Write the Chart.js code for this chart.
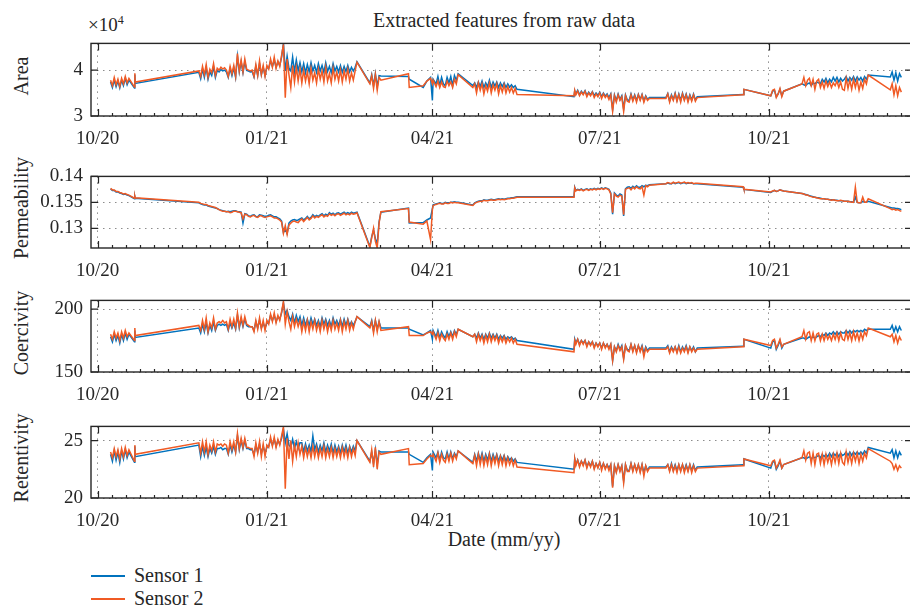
<!DOCTYPE html>
<html>
<head>
<meta charset="utf-8">
<script src="https://cdn.jsdelivr.net/npm/chart.js@4.4.0/dist/chart.umd.min.js"></script>
<style>
  html, body { margin: 0; width: 910px; height: 609px; overflow: hidden; background: #fff; }
  .panel { position: absolute; left: 0; width: 912px; }
  .txt { position: absolute; font-family: "Liberation Serif", "Times New Roman", serif; color: #262626; white-space: nowrap; }
  .ylab { font-size: 20px; transform: translate(-50%, -50%) rotate(-90deg); }
  .key { position: absolute; left: 91px; width: 34px; height: 1.6px; }
</style>
</head>
<body>
<div class="txt" style="left:91px;width:826px;top:9px;text-align:center;font-size:20px">Extracted features from raw data</div>
<div class="txt" style="left:88px;top:13px;font-size:19px">×10<sup style="font-size:12px">4</sup></div>

<div class="txt ylab" style="left:21px;top:76px">Area</div>
<div class="txt ylab" style="left:21px;top:208px">Permeability</div>
<div class="txt ylab" style="left:21px;top:333px">Coercivity</div>
<div class="txt ylab" style="left:21px;top:458px">Retentivity</div>

<div class="panel" style="top:24px"><canvas id="area" width="912" height="122"></canvas></div>
<div class="panel" style="top:157px"><canvas id="perm" width="912" height="121"></canvas></div>
<div class="panel" style="top:281px"><canvas id="coer" width="912" height="121"></canvas></div>
<div class="panel" style="top:407px"><canvas id="ret" width="912" height="121"></canvas></div>

<div class="txt" style="left:91px;width:826px;top:528px;text-align:center;font-size:20px">Date (mm/yy)</div>

<div class="key" style="top:575px;background:#0072BD"></div>
<div class="txt" style="left:134px;top:563px;font-size:20px;line-height:24px">Sensor 1</div>
<div class="key" style="top:598px;background:#F05A24"></div>
<div class="txt" style="left:134px;top:586px;font-size:20px;line-height:24px">Sensor 2</div>

<script>
// sample times, days since 1 Oct 2020 (one row per recording session)
const days = [
  7, 8, 9, 10, 11, 12, 13, 14, 15, 16, 17,
  20, 20.2, 20.4,
  55, 56, 57, 58, 59, 60, 61, 62, 63, 64, 65, 66, 67, 68, 69, 70, 71, 72, 73, 74, 75,
  76, 77, 78, 79, 80, 81, 82, 83, 84, 85, 86, 87, 88, 89, 90, 91, 92, 93, 94, 95, 96, 97, 98, 99, 100,
  101, 102, 103, 104, 105, 106, 107, 108, 109, 110,
  111, 112, 113, 114, 115, 116, 117, 118, 119, 120, 121, 122, 123, 124, 125, 126, 127, 128, 129,
  130, 131, 132, 133, 134, 135, 136, 137, 138, 139, 140, 141,
  148, 149, 150, 151, 152, 153, 154,
  169, 169.4,
  177, 179, 181, 182, 182.4,
  184, 185, 186, 187, 188, 189, 190, 191, 192, 193, 194, 195, 196,
  204,
  205, 206, 207, 208, 209, 210, 211, 212, 213, 214, 215, 216, 217, 218, 219, 220, 221, 222, 223, 224, 225, 226, 227, 228,
  259, 259.4,
  260, 261, 262, 263, 264, 265, 266, 267, 268, 269, 270, 271, 272, 273, 274, 275, 276, 277, 278, 279,
  280, 281, 282, 283, 284, 285, 286, 287, 288, 289, 290, 291, 292, 293, 294, 295, 296, 297, 298, 299, 300,
  309, 310, 311, 312, 313, 314, 315, 316, 317, 318, 319, 320, 321, 322, 323, 324, 325, 326,
  351, 351.4,
  366, 367, 368, 369, 370, 371, 372, 373,
  383, 384, 385, 386, 387, 388, 389, 390, 391, 392, 393, 394, 395, 396, 397, 398, 399, 400, 401,
  402, 403, 404, 405, 406, 407, 408, 409, 410, 411, 412, 413, 414, 415, 416, 417, 418, 419,
  431, 432, 433, 434, 435, 436, 437
];

const tickDays = [0, 92, 182, 273, 365];
const tickLabels = ['10/20', '01/21', '04/21', '07/21', '10/21'];

// area in units of 10^4
const areaS1 = [
  3.74, 3.62, 3.78, 3.64, 3.76, 3.61, 3.78, 3.66, 3.82, 3.68, 3.78,
  3.61, 3.90, 3.71,
  3.95, 3.81, 4.02, 3.84, 4.05, 3.80, 3.96, 3.88, 4.07, 3.84, 3.99, 3.96, 4.01, 3.98, 4.00, 3.96, 3.84, 4.03, 3.88, 4.05, 3.84,
  4.30, 3.96, 4.18, 3.94, 4.18, 3.99, 3.98, 3.96, 3.97, 3.85, 4.08, 3.88, 4.14, 3.90, 4.06, 3.88, 4.06, 4.04, 4.20, 4.08, 4.22, 4.06, 4.18, 4.10, 4.28,
  4.58, 3.98, 4.30, 4.04, 3.98, 4.28, 3.96, 4.22, 3.98, 4.16,
  3.96, 4.14, 3.94, 4.12, 3.96, 4.16, 3.98, 4.10, 3.95, 4.14, 3.98, 4.10, 3.95, 4.16, 3.97, 4.08, 3.94, 4.14, 3.98,
  4.08, 3.96, 4.10, 3.95, 4.08, 3.97, 4.10, 3.96, 4.06, 3.98, 4.06, 4.18,
  3.72, 3.90, 3.66, 3.92, 3.64, 3.88, 3.87,
  3.86, 3.80,
  3.62, 3.76, 3.84, 3.34, 3.80,
  3.70, 3.86, 3.66, 3.84, 3.70, 3.66, 3.84, 3.72, 3.86, 3.66, 3.88, 3.78, 3.92,
  3.66,
  3.72, 3.62, 3.74, 3.64, 3.76, 3.62, 3.72, 3.64, 3.78, 3.62, 3.74, 3.65, 3.74, 3.62, 3.72, 3.64, 3.72, 3.62, 3.70, 3.63, 3.68, 3.62, 3.66, 3.58,
  3.42, 3.55,
  3.48, 3.56, 3.46, 3.54, 3.48, 3.55, 3.45, 3.52, 3.46, 3.53, 3.44, 3.50, 3.45, 3.52, 3.42, 3.50, 3.43, 3.48, 3.40, 3.48,
  3.14, 3.46, 3.34, 3.48, 3.36, 3.44, 3.16, 3.46, 3.35, 3.34, 3.48, 3.35, 3.46, 3.34, 3.47, 3.36, 3.47, 3.33, 3.44, 3.36, 3.40,
  3.40, 3.49, 3.33, 3.46, 3.36, 3.50, 3.34, 3.48, 3.34, 3.50, 3.36, 3.48, 3.34, 3.46, 3.35, 3.48, 3.35, 3.42,
  3.47, 3.58,
  3.44, 3.54, 3.56, 3.42, 3.48, 3.58, 3.44, 3.54,
  3.70, 3.68, 3.66, 3.70, 3.72, 3.66, 3.72, 3.70, 3.74, 3.72, 3.70, 3.80, 3.74, 3.82, 3.72, 3.80, 3.74, 3.84, 3.76,
  3.84, 3.74, 3.82, 3.76, 3.80, 3.86, 3.76, 3.84, 3.78, 3.86, 3.76, 3.85, 3.78, 3.84, 3.76, 3.86, 3.80, 3.89,
  3.85, 3.96, 3.78, 3.94, 3.76, 3.92, 3.84
];
const areaS2 = [
  3.78, 3.66, 3.84, 3.68, 3.80, 3.64, 3.82, 3.70, 3.86, 3.72, 3.82,
  3.63, 3.93, 3.74,
  3.98, 3.86, 4.08, 3.90, 4.12, 3.84, 4.02, 3.94, 4.14, 3.88, 4.04, 4.00, 4.06, 4.02, 4.05, 4.00, 3.86, 4.08, 3.92, 4.10, 3.86,
  4.36, 3.98, 4.22, 3.96, 4.24, 4.02, 4.00, 3.98, 4.00, 3.86, 4.12, 3.88, 4.20, 3.90, 4.10, 3.86, 4.10, 4.02, 4.24, 4.06, 4.28, 4.04, 4.20, 4.08, 4.32,
  4.56, 3.40, 4.24, 3.90, 3.62, 4.10, 3.74, 4.06, 3.76, 4.02,
  3.72, 4.00, 3.76, 3.96, 3.70, 4.04, 3.78, 3.94, 3.72, 4.02, 3.80, 3.98, 3.74, 4.06, 3.76, 3.92, 3.72, 4.04, 3.80,
  3.96, 3.76, 4.00, 3.74, 3.98, 3.80, 4.02, 3.76, 3.94, 3.78, 3.98, 4.17,
  3.70, 3.88, 3.60, 3.90, 3.56, 3.84, 3.78,
  3.92, 3.62,
  3.66, 3.76, 3.82, 3.70, 3.78,
  3.64, 3.76, 3.62, 3.74, 3.64, 3.62, 3.76, 3.66, 3.74, 3.62, 3.80, 3.70, 3.90,
  3.62,
  3.70, 3.50, 3.72, 3.56, 3.70, 3.48, 3.66, 3.54, 3.72, 3.50, 3.68, 3.56, 3.70, 3.48, 3.66, 3.52, 3.68, 3.50, 3.64, 3.52, 3.62, 3.50, 3.60, 3.47,
  3.44, 3.56,
  3.46, 3.54, 3.44, 3.52, 3.46, 3.54, 3.42, 3.50, 3.44, 3.52, 3.40, 3.48, 3.42, 3.50, 3.38, 3.48, 3.40, 3.46, 3.36, 3.46,
  3.10, 3.44, 3.30, 3.46, 3.34, 3.42, 3.10, 3.44, 3.32, 3.30, 3.46, 3.32, 3.44, 3.30, 3.46, 3.34, 3.46, 3.30, 3.42, 3.34, 3.38,
  3.38, 3.48, 3.30, 3.44, 3.34, 3.48, 3.32, 3.46, 3.30, 3.48, 3.34, 3.46, 3.30, 3.44, 3.32, 3.46, 3.32, 3.40,
  3.46, 3.58,
  3.44, 3.56, 3.58, 3.40, 3.48, 3.60, 3.42, 3.54,
  3.70, 3.84, 3.66, 3.78, 3.82, 3.66, 3.80, 3.58, 3.76, 3.80, 3.62, 3.74, 3.60, 3.76, 3.64, 3.74, 3.62, 3.72, 3.66,
  3.76, 3.62, 3.74, 3.58, 3.56, 3.82, 3.60, 3.78, 3.58, 3.80, 3.62, 3.78, 3.56, 3.74, 3.60, 3.80, 3.70, 3.89,
  3.57, 3.70, 3.46, 3.66, 3.44, 3.62, 3.52
];

const permS1 = [
  0.1376, 0.1373, 0.1373, 0.1370, 0.1370, 0.1368, 0.1367, 0.1365, 0.1366, 0.1364, 0.1363,
  0.1357, 0.1361, 0.1358,
  0.1349, 0.1347, 0.1346, 0.1345, 0.1345, 0.1343, 0.1342, 0.1341, 0.1340, 0.1339, 0.1338, 0.1336, 0.1335, 0.1334, 0.1333, 0.1332, 0.1333, 0.1332, 0.1333, 0.1334, 0.1334,
  0.1332, 0.1332, 0.1331, 0.1310, 0.1328, 0.1327, 0.1324, 0.1323, 0.1325, 0.1326, 0.1323, 0.1322, 0.1326, 0.1325, 0.1324, 0.1323, 0.1323, 0.1325, 0.1326, 0.1324, 0.1322, 0.1322, 0.1320, 0.1318, 0.1314,
  0.1292, 0.1298, 0.1290, 0.1310, 0.1314, 0.1316, 0.1317, 0.1315, 0.1316, 0.1318,
  0.1320, 0.1316, 0.1319, 0.1323, 0.1318, 0.1321, 0.1326, 0.1322, 0.1325, 0.1323, 0.1326, 0.1328, 0.1324, 0.1327, 0.1325, 0.1330, 0.1327, 0.1329, 0.1326,
  0.1329, 0.1330, 0.1327, 0.1329, 0.1331, 0.1328, 0.1330, 0.1328, 0.1331, 0.1329, 0.1330, 0.1331,
  0.1265, 0.1284, 0.1296, 0.1280, 0.1270, 0.1312, 0.1331,
  0.1339, 0.1310,
  0.1311, 0.1316, 0.1320, 0.1338, 0.1345,
  0.1347, 0.1348, 0.1349, 0.1348, 0.1348, 0.1350, 0.1349, 0.1349, 0.1350, 0.1350, 0.1351, 0.1350, 0.1350,
  0.1345,
  0.1349, 0.1351, 0.1352, 0.1353, 0.1353, 0.1355, 0.1354, 0.1354, 0.1355, 0.1356, 0.1355, 0.1355, 0.1356, 0.1357, 0.1356, 0.1357, 0.1356, 0.1357, 0.1358, 0.1358, 0.1359, 0.1359, 0.1360, 0.1361,
  0.1361, 0.1379,
  0.1373, 0.1375, 0.1374, 0.1376, 0.1373, 0.1375, 0.1376, 0.1374, 0.1376, 0.1375, 0.1377, 0.1375, 0.1377, 0.1376, 0.1378, 0.1376, 0.1378, 0.1377, 0.1375, 0.1368,
  0.1327, 0.1368, 0.1364, 0.1362, 0.1366, 0.1364, 0.1324, 0.1376, 0.1379, 0.1380, 0.1377, 0.1381, 0.1378, 0.1382, 0.1379, 0.1379, 0.1382, 0.1380, 0.1383, 0.1382, 0.1384,
  0.1386, 0.1387, 0.1386, 0.1386, 0.1388, 0.1386, 0.1387, 0.1388, 0.1386, 0.1387, 0.1388, 0.1386, 0.1387, 0.1387, 0.1387, 0.1386, 0.1386, 0.1386,
  0.1379, 0.1375,
  0.1369, 0.1371, 0.1373, 0.1371, 0.1372, 0.1374, 0.1373, 0.1372,
  0.1367, 0.1366, 0.1365, 0.1364, 0.1363, 0.1362, 0.1361, 0.1360, 0.1359, 0.1359, 0.1358, 0.1357, 0.1357, 0.1356, 0.1356, 0.1355, 0.1355, 0.1355, 0.1354,
  0.1354, 0.1353, 0.1353, 0.1353, 0.1352, 0.1352, 0.1352, 0.1351, 0.1351, 0.1350, 0.1360, 0.1350, 0.1349, 0.1349, 0.1352, 0.1350, 0.1350, 0.1352,
  0.1340, 0.1339, 0.1339, 0.1338, 0.1338, 0.1337, 0.1336
];
const permS2 = [
  0.1377, 0.1374, 0.1374, 0.1371, 0.1371, 0.1369, 0.1368, 0.1366, 0.1367, 0.1365, 0.1364,
  0.1358, 0.1362, 0.1359,
  0.1350, 0.1348, 0.1347, 0.1346, 0.1346, 0.1344, 0.1343, 0.1342, 0.1341, 0.1340, 0.1338, 0.1336, 0.1334, 0.1333, 0.1333, 0.1332, 0.1332, 0.1330, 0.1331, 0.1333, 0.1333,
  0.1332, 0.1331, 0.1330, 0.1318, 0.1327, 0.1326, 0.1323, 0.1322, 0.1324, 0.1325, 0.1322, 0.1321, 0.1324, 0.1324, 0.1322, 0.1321, 0.1322, 0.1323, 0.1324, 0.1322, 0.1320, 0.1320, 0.1318, 0.1316, 0.1312,
  0.1290, 0.1305, 0.1288, 0.1306, 0.1310, 0.1313, 0.1314, 0.1312, 0.1311, 0.1315,
  0.1318, 0.1313, 0.1317, 0.1321, 0.1316, 0.1319, 0.1324, 0.1320, 0.1323, 0.1321, 0.1324, 0.1326, 0.1322, 0.1325, 0.1323, 0.1328, 0.1325, 0.1327, 0.1324,
  0.1327, 0.1328, 0.1325, 0.1327, 0.1329, 0.1326, 0.1328, 0.1326, 0.1329, 0.1327, 0.1328, 0.1330,
  0.1263, 0.1282, 0.1300, 0.1275, 0.1262, 0.1310, 0.1332,
  0.1338, 0.1312,
  0.1308, 0.1314, 0.1278, 0.1336, 0.1344,
  0.1346, 0.1347, 0.1348, 0.1347, 0.1347, 0.1349, 0.1348, 0.1348, 0.1350, 0.1349, 0.1350, 0.1349, 0.1349,
  0.1344,
  0.1348, 0.1350, 0.1351, 0.1352, 0.1352, 0.1354, 0.1353, 0.1353, 0.1354, 0.1355, 0.1354, 0.1354, 0.1355, 0.1356, 0.1355, 0.1356, 0.1355, 0.1356, 0.1357, 0.1357, 0.1358, 0.1358, 0.1359, 0.1360,
  0.1360, 0.1378,
  0.1372, 0.1374, 0.1373, 0.1375, 0.1372, 0.1374, 0.1375, 0.1373, 0.1375, 0.1374, 0.1376, 0.1374, 0.1376, 0.1375, 0.1377, 0.1375, 0.1377, 0.1376, 0.1374, 0.1366,
  0.1330, 0.1366, 0.1362, 0.1360, 0.1364, 0.1362, 0.1326, 0.1375, 0.1377, 0.1378, 0.1374, 0.1379, 0.1376, 0.1380, 0.1377, 0.1376, 0.1380, 0.1364, 0.1382, 0.1380, 0.1383,
  0.1386, 0.1388, 0.1387, 0.1386, 0.1389, 0.1387, 0.1388, 0.1389, 0.1387, 0.1388, 0.1389, 0.1387, 0.1388, 0.1387, 0.1388, 0.1386, 0.1387, 0.1387,
  0.1380, 0.1375,
  0.1370, 0.1372, 0.1373, 0.1371, 0.1372, 0.1374, 0.1373, 0.1372,
  0.1367, 0.1366, 0.1364, 0.1364, 0.1362, 0.1361, 0.1360, 0.1360, 0.1359, 0.1358, 0.1357, 0.1357, 0.1357, 0.1356, 0.1356, 0.1355, 0.1354, 0.1355, 0.1354,
  0.1353, 0.1353, 0.1354, 0.1353, 0.1352, 0.1352, 0.1352, 0.1351, 0.1350, 0.1350, 0.1379, 0.1350, 0.1349, 0.1349, 0.1360, 0.1350, 0.1350, 0.1357,
  0.1338, 0.1336, 0.1337, 0.1335, 0.1336, 0.1334, 0.1333
];

const coerS1 = [
  178, 174, 180, 175, 179, 173, 180, 175, 181, 176, 180,
  174, 183, 177.5,
  185, 181, 188, 182, 189, 181, 187, 183, 190, 183, 187, 188, 187, 188, 187, 188, 183, 189, 185, 189, 184,
  195, 185, 192, 186, 192, 187, 186, 186, 186, 183, 190, 185, 191, 185, 189, 185, 189, 189, 195, 191, 195, 190, 194, 192, 197,
  205, 196, 199, 194, 191, 196, 189, 195, 190, 194,
  187, 193, 187, 192, 187, 193, 188, 192, 187, 191, 186, 193, 188, 192, 187, 191, 186, 193, 188,
  191, 187, 192, 186, 192, 187, 192, 187, 190, 187, 190, 194,
  186, 191, 183, 191, 184, 190, 185,
  185, 184,
  179.5, 181, 183, 176, 183,
  178, 183, 177, 182, 179, 177, 182, 178, 182, 178, 183, 180, 184,
  178,
  180, 177, 181, 177, 180, 176, 180, 177, 181, 177, 180, 177, 180, 176, 179, 177, 179, 176, 178, 177, 178, 176, 177, 175,
  168, 176,
  173, 176, 172, 175, 173, 175, 171, 174, 172, 174, 170, 173, 171, 173, 169, 173, 170, 172, 169, 172,
  159, 170, 167, 172, 168, 171, 161, 171, 168, 167, 172, 167, 171, 166, 171, 167, 171, 165, 170, 167, 169,
  169, 171, 166, 170, 167, 170, 166, 171, 166, 170, 167, 171, 166, 170, 167, 170, 166, 169,
  170.5, 176,
  169, 174, 175, 168, 171, 175, 169, 172,
  177, 177, 176, 177, 178, 177, 178, 177, 178, 179, 178, 180, 179, 181, 179, 181, 180, 182, 180,
  182, 180, 182, 181, 181, 183, 181, 183, 181, 183, 182, 183, 182, 183, 182, 184, 183, 184,
  184, 187, 182, 186, 182, 186, 183
];
const coerS2 = [
  180, 176, 182, 177, 181, 175, 182, 177, 183, 178, 181,
  175, 185, 179,
  187, 183, 191, 184, 193, 182, 189, 185, 193, 184, 189, 190, 189, 191, 189, 190, 184, 192, 186, 192, 185,
  197, 186, 194, 187, 194, 188, 187, 186, 186, 182, 191, 184, 193, 184, 191, 183, 191, 188, 196, 190, 197, 189, 195, 191, 198,
  206, 188, 198, 190, 184, 194, 186, 192, 186, 191,
  182, 190, 183, 191, 182, 190, 184, 191, 183, 189, 182, 191, 184, 190, 182, 189, 183, 191, 184,
  189, 183, 191, 182, 190, 184, 191, 183, 189, 184, 190, 194,
  185, 190, 181, 191, 182, 190, 183,
  186, 179,
  179, 181, 182, 180, 182,
  176, 181, 175, 180, 177, 175, 180, 176, 181, 176, 182, 178, 184,
  178,
  180, 174, 180, 175, 179, 173, 179, 174, 180, 174, 179, 175, 179, 173, 178, 174, 178, 173, 177, 174, 177, 173, 176, 172,
  166, 175,
  172, 176, 171, 175, 172, 175, 170, 174, 171, 174, 169, 173, 170, 173, 168, 173, 169, 172, 168, 172,
  159, 170, 166, 171, 167, 170, 160, 171, 167, 166, 172, 166, 171, 165, 171, 166, 170, 162, 169, 166, 168,
  168, 170, 165, 169, 166, 170, 165, 170, 165, 169, 166, 170, 165, 170, 166, 169, 166, 168,
  170, 176,
  171, 175, 176, 169, 172, 176, 170, 172,
  178, 183, 176, 181, 182, 175, 181, 175, 180, 181, 175, 180, 175, 180, 176, 179, 175, 180, 176,
  181, 175, 181, 176, 175, 182, 176, 181, 175, 182, 176, 181, 175, 181, 176, 182, 179, 185,
  178, 180, 174, 179, 173, 178, 175
];

const retS1 = [
  23.8, 23.2, 24.1, 23.3, 24.0, 23.1, 24.1, 23.4, 24.2, 23.5, 24.0,
  23.1, 24.5, 23.6,
  24.6, 23.6, 24.5, 23.7, 24.4, 23.6, 24.3, 23.9, 24.5, 23.8, 24.3, 24.3, 24.4, 24.2, 24.3, 24.3, 23.8, 24.6, 24.0, 24.6, 24.0,
  25.4, 24.2, 25.0, 24.3, 25.0, 24.3, 24.3, 24.2, 24.2, 23.8, 24.6, 24.0, 24.7, 23.9, 24.5, 23.9, 24.4, 24.5, 25.1, 24.6, 25.1, 24.5, 25.0, 24.7, 25.2,
  26.0, 24.8, 25.6, 24.6, 24.4, 25.1, 24.3, 24.9, 24.3, 24.8,
  24.8, 24.0, 24.7, 24.1, 24.6, 24.0, 25.4, 24.2, 24.7, 24.0, 24.6, 24.1, 24.8, 24.0, 24.6, 24.1, 24.7, 23.9, 24.6,
  24.0, 24.5, 23.9, 24.6, 24.0, 24.6, 23.9, 24.5, 24.0, 24.5, 24.1, 25.0,
  23.2, 24.0, 23.0, 24.2, 22.9, 24.1, 24.0,
  24.0, 23.8,
  23.1, 23.5, 23.8, 22.4, 24.0,
  23.5, 24.0, 23.3, 24.0, 23.5, 23.4, 24.0, 23.4, 24.0, 23.4, 23.9, 23.6, 24.1,
  23.1,
  23.8, 23.2, 23.9, 23.3, 23.9, 23.2, 23.8, 23.3, 23.9, 23.2, 23.8, 23.3, 23.8, 23.2, 23.7, 23.3, 23.7, 23.2, 23.6, 23.3, 23.5, 23.2, 23.4, 23.1,
  22.5, 23.4,
  22.9, 23.3, 22.8, 23.2, 22.9, 23.3, 22.7, 23.1, 22.8, 23.2, 22.6, 23.0, 22.7, 23.1, 22.6, 23.0, 22.6, 22.9, 22.6, 22.9,
  21.0, 22.8, 22.3, 22.9, 22.4, 22.8, 21.5, 22.9, 22.4, 22.4, 23.0, 22.4, 22.9, 22.4, 22.9, 22.3, 22.9, 22.2, 22.8, 22.4, 22.7,
  22.7, 22.9, 22.4, 23.0, 22.4, 22.9, 22.4, 22.9, 22.4, 22.9, 22.4, 22.9, 22.4, 22.9, 22.4, 22.9, 22.4, 22.7,
  22.9, 23.4,
  22.6, 23.1, 23.2, 22.5, 22.8, 23.2, 22.6, 22.9,
  23.5, 23.5, 23.4, 23.5, 23.6, 23.4, 23.6, 23.5, 23.6, 23.7, 23.5, 23.8, 23.6, 23.8, 23.6, 23.9, 23.6, 23.9, 23.7,
  23.9, 23.6, 23.9, 23.7, 23.8, 24.0, 23.7, 24.0, 23.7, 24.0, 23.8, 24.0, 23.8, 24.0, 23.8, 24.1, 23.9, 24.4,
  23.9, 24.2, 23.5, 24.1, 23.5, 24.0, 23.7
];
const retS2 = [
  24.0, 23.5, 24.3, 23.6, 24.2, 23.4, 24.3, 23.6, 24.4, 23.7, 24.2,
  23.2, 24.6, 23.8,
  24.8, 23.9, 24.9, 24.0, 24.9, 23.8, 24.6, 24.1, 24.9, 24.0, 24.7, 24.6, 24.7, 24.5, 24.7, 24.6, 23.9, 24.9, 24.2, 24.9, 24.0,
  25.6, 24.3, 25.2, 24.4, 25.2, 24.4, 24.4, 24.3, 24.3, 23.6, 24.8, 23.9, 24.9, 23.6, 24.7, 23.6, 24.6, 24.4, 25.3, 24.5, 25.3, 24.4, 25.1, 24.6, 25.4,
  26.2, 20.8, 25.2, 23.4, 25.0, 23.2, 24.6, 23.6, 24.8, 23.8,
  24.5, 23.5, 24.4, 23.6, 24.3, 23.5, 24.5, 23.6, 24.4, 23.5, 24.3, 23.6, 24.5, 23.5, 24.3, 23.6, 24.4, 23.5, 24.3,
  23.6, 24.3, 23.5, 24.4, 23.6, 24.3, 23.5, 24.4, 23.6, 24.3, 23.7, 25.0,
  23.1, 24.2, 22.7, 24.4, 22.5, 24.0, 23.8,
  24.3, 22.9,
  23.0, 23.4, 23.7, 23.6, 23.8,
  23.2, 23.9, 23.1, 23.8, 23.3, 23.1, 23.8, 23.2, 23.9, 23.2, 23.8, 23.4, 24.1,
  23.0,
  23.7, 22.8, 23.8, 22.9, 23.7, 22.8, 23.6, 22.9, 23.8, 22.8, 23.6, 23.0, 23.7, 22.8, 23.6, 22.9, 23.6, 22.8, 23.5, 22.9, 23.4, 22.8, 23.3, 22.7,
  22.2, 23.4,
  22.8, 23.3, 22.7, 23.2, 22.8, 23.3, 22.6, 23.1, 22.7, 23.2, 22.5, 23.0, 22.6, 23.1, 22.4, 23.0, 22.5, 22.9, 22.4, 22.9,
  20.9, 22.8, 22.2, 22.9, 22.3, 22.8, 21.3, 22.9, 22.3, 22.3, 23.0, 22.3, 22.9, 22.3, 22.9, 22.2, 22.9, 21.9, 22.8, 22.3, 22.6,
  22.6, 22.9, 22.3, 22.9, 22.3, 22.8, 22.2, 22.9, 22.3, 22.9, 22.2, 22.8, 22.3, 22.9, 22.2, 22.8, 22.3, 22.6,
  22.8, 23.4,
  22.8, 23.2, 23.3, 22.6, 22.9, 23.3, 22.6, 22.9,
  23.5, 24.1, 23.3, 23.9, 24.0, 23.0, 23.9, 22.9, 23.8, 23.9, 23.0, 23.8, 22.9, 23.8, 23.1, 23.7, 22.9, 23.8, 23.1,
  23.9, 23.0, 23.9, 23.1, 22.9, 24.0, 23.1, 23.8, 23.0, 23.9, 23.2, 23.9, 23.0, 23.8, 23.2, 23.9, 23.5, 24.3,
  23.2, 23.0, 22.5, 22.9, 22.4, 22.8, 22.6
];

[areaS1, areaS2, permS1, permS2, coerS1, coerS2, retS1, retS2].forEach((a, i) => {
  if (a.length !== days.length) throw new Error('series ' + i + ' has ' + a.length + ' values, expected ' + days.length);
});

const BLUE = '#0072BD';
const ORANGE = '#F05A24';
const INK = '#262626';
const X_MIN = -3.64, X_MAX = 442.8;
const FONT = { family: '"Liberation Serif", "Times New Roman", serif', size: 19 };

// axis box with inward ticks, MATLAB style
const framePlugin = {
  id: 'frame',
  afterDraw(chart) {
    const { ctx, chartArea: a, scales: { x, y } } = chart;
    ctx.save();
    ctx.strokeStyle = INK;
    ctx.lineWidth = 1.2;
    ctx.beginPath();
    x.ticks.forEach(t => {
      const px = Math.round(x.getPixelForValue(t.value)) + 0.5;
      ctx.moveTo(px, a.bottom); ctx.lineTo(px, a.bottom - 7);
      ctx.moveTo(px, a.top); ctx.lineTo(px, a.top + 7);
    });
    y.ticks.forEach(t => {
      const py = y.getPixelForValue(t.value);
      ctx.moveTo(a.left, py); ctx.lineTo(a.left + 7, py);
      ctx.moveTo(a.right, py); ctx.lineTo(a.right - 7, py);
    });
    // minor ticks along the bottom, 12 per quarter
    const step = 92 / 12;
    for (let d = tickDays[0] - step; d < X_MAX; d += step) {
      if (d < X_MIN) continue;
      const px = Math.round(x.getPixelForValue(d)) + 0.5;
      ctx.moveTo(px, a.bottom); ctx.lineTo(px, a.bottom - 3);
    }
    ctx.stroke();
    ctx.lineWidth = 1.4;
    ctx.strokeRect(a.left, a.top, a.right - a.left, a.bottom - a.top);
    ctx.restore();
  }
};

function series(vals) {
  return days.map((d, i) => ({ x: d, y: vals[i] }));
}

function makePanel(id, s1, s2, yMin, yMax, yTicks, fmt) {
  new Chart(document.getElementById(id), {
    type: 'line',
    data: {
      datasets: [
        { label: 'Sensor 1', data: series(s1), borderColor: BLUE, borderWidth: 1.5, pointRadius: 0, order: 1 },
        { label: 'Sensor 2', data: series(s2), borderColor: ORANGE, borderWidth: 1.5, pointRadius: 0, order: 0 }
      ]
    },
    options: {
      responsive: false,
      animation: false,
      events: [],
      layout: { padding: { top: 12, right: 0, bottom: 0, left: 0 } },
      plugins: { legend: { display: false }, tooltip: { enabled: false } },
      scales: {
        x: {
          type: 'linear',
          min: X_MIN,
          max: X_MAX,
          afterBuildTicks: s => { s.ticks = tickDays.map(v => ({ value: v })); },
          afterFit: s => { s.height = 30; },
          ticks: {
            callback: v => tickLabels[tickDays.indexOf(v)],
            font: FONT, color: INK, padding: 12, maxRotation: 0, autoSkip: false
          },
          grid: { color: '#8c8c8c', lineWidth: 1, drawTicks: false },
          border: { display: false, dash: [1.5, 4.5] }
        },
        y: {
          min: yMin,
          max: yMax,
          afterBuildTicks: s => { s.ticks = yTicks.map(v => ({ value: v })); },
          afterFit: s => { s.width = 91; },
          ticks: { callback: fmt, font: FONT, color: INK, padding: 8 },
          grid: { color: '#8c8c8c', lineWidth: 1, drawTicks: false },
          border: { display: false, dash: [1.5, 4.5] }
        }
      }
    },
    plugins: [framePlugin]
  });
}

makePanel('area', areaS1, areaS2, 3, 4.58, [3, 4], v => String(v));
makePanel('perm', permS1, permS2, 0.1262, 0.14, [0.13, 0.135, 0.14], v => String(v));
makePanel('coer', coerS1, coerS2, 150, 206.9, [150, 200], v => String(v));
makePanel('ret', retS1, retS2, 20, 26.23, [20, 25], v => String(v));
</script>
</body>
</html>
